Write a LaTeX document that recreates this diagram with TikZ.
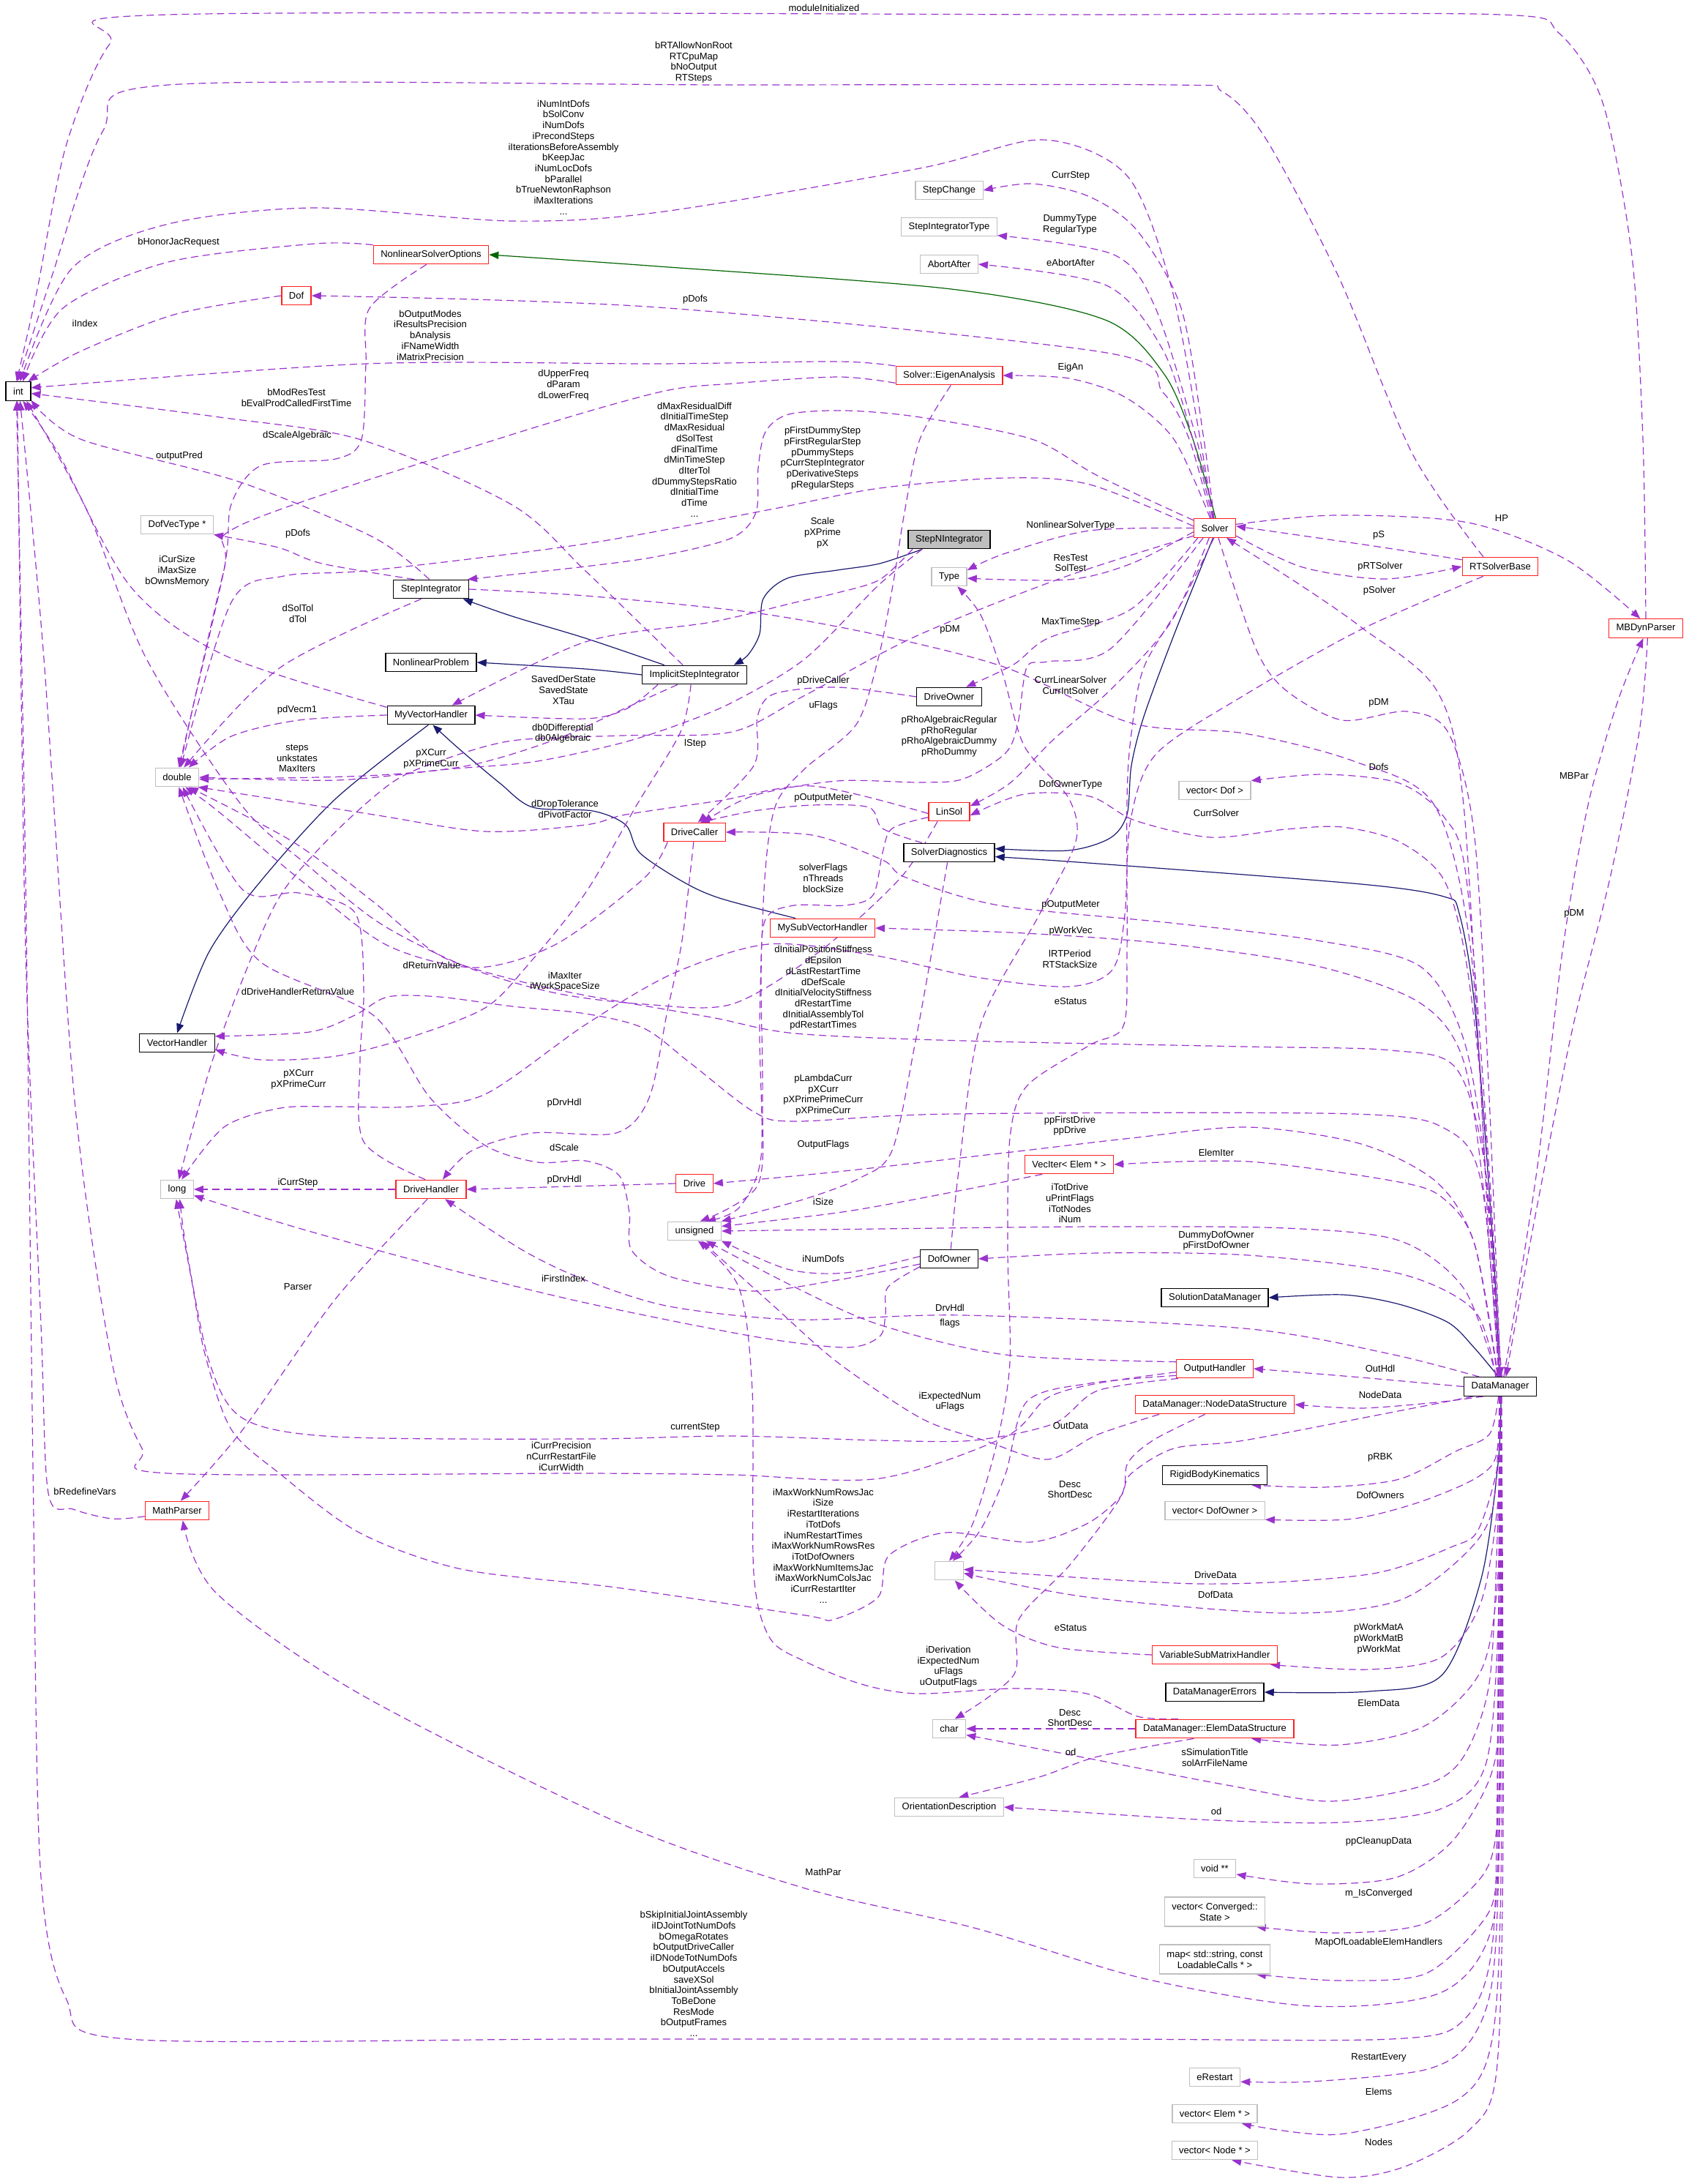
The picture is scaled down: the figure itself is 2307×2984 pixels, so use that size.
\documentclass[tikz,border=0pt]{standalone}
\usepackage{fontspec}
\setmainfont{Liberation Sans}
\usetikzlibrary{arrows.meta}
\definecolor{usage}{HTML}{9A32CD}
\definecolor{pubinh}{HTML}{191970}
\definecolor{protinh}{HTML}{006400}
\definecolor{trunc}{HTML}{FF2020}
\definecolor{undoc}{HTML}{BFBFBF}
\pgfdeclarelayer{edges}
\pgfsetlayers{edges,main}

\begin{document}
\begin{tikzpicture}[x=1pt, y=-1pt, font=\fontsize{13}{14.7}\selectfont,
    box/.style={draw=black, line width=1.3pt, fill=white, minimum height=25.5pt, inner xsep=10pt, inner ysep=2pt},
    red box/.style={box, draw=trunc},
    grey box/.style={box, draw=undoc},
    lbl/.style={align=center, inner sep=0pt},
    dep/.style={draw=usage, line width=1.2pt, dash pattern=on 10pt off 6pt, -{Triangle[length=13pt, width=10pt]}},
    inh/.style={draw=pubinh, line width=1.2pt, -{Triangle[length=13pt, width=10pt]}},
    prot/.style={inh, draw=protinh}]
  \useasboundingbox (0,0) rectangle (2307,2984);

  % classes
  \node[box] (int) at (25,534.5) {int};
  \node[red box] (nso) at (589,348) {NonlinearSolverOptions};
  \node[red box] (dof) at (405,404) {Dof};
  \node[grey box] (stepchange) at (1297,260) {StepChange};
  \node[grey box] (sitype) at (1297,310) {StepIntegratorType};
  \node[grey box] (abortafter) at (1297,361) {AbortAfter};
  \node[red box] (eigen) at (1297,513) {Solver::EigenAnalysis};
  \node[red box] (solver) at (1660,721.5) {Solver};
  \node[red box] (rtsolver) at (2050,774) {RTSolverBase};
  \node[red box] (mbdyn) at (2249,858.5) {MBDynParser};
  \node[grey box] (dofvec) at (242,717) {DofVecType *};
  \node[box] (stepint) at (589,805) {StepIntegrator};
  \node[box] (nlprob) at (589,905) {NonlinearProblem};
  \node[box] (myvh) at (589,977) {MyVectorHandler};
  \node[grey box] (double) at (242,1062) {double};
  \node[box, fill=undoc] (stepn) at (1297,737) {StepNIntegrator};
  \node[grey box] (type) at (1297,788) {Type};
  \node[box] (implicit) at (949,922) {ImplicitStepIntegrator};
  \node[box] (driveowner) at (1297,952) {DriveOwner};
  \node[red box] (linsol) at (1297,1109) {LinSol};
  \node[red box] (drivecaller) at (949,1137) {DriveCaller};
  \node[box] (diag) at (1297,1165) {SolverDiagnostics};
  \node[grey box] (vecdof) at (1660,1080) {vector< Dof >};
  \node[red box] (mysubvh) at (1124,1268) {MySubVectorHandler};
  \node[box] (vh) at (242,1425) {VectorHandler};
  \node[grey box] (long) at (242,1625) {long};
  \node[red box] (drivehandler) at (589,1625) {DriveHandler};
  \node[red box] (mathparser) at (242,2064) {MathParser};
  \node[red box] (drive) at (949,1617) {Drive};
  \node[grey box] (unsigned) at (949,1682) {unsigned};
  \node[red box] (veciter) at (1461,1591) {VecIter< Elem * >};
  \node[box] (dofowner) at (1297,1720) {DofOwner};
  \node[box] (sdm) at (1660,1773) {SolutionDataManager};
  \node[red box] (outhdl) at (1660,1870) {OutputHandler};
  \node[box] (dm) at (2050,1894.5) {DataManager};
  \node[red box] (nodeds) at (1660,1919) {DataManager::NodeDataStructure};
  \node[box] (rbk) at (1660,2015.5) {RigidBodyKinematics};
  \node[grey box] (vecdofowner) at (1660,2064) {vector< DofOwner >};
  \node[grey box, minimum width=38.5pt] (empty) at (1297,2146) {};
  \node[red box] (vsmh) at (1660,2261) {VariableSubMatrixHandler};
  \node[box] (dmerr) at (1660,2312) {DataManagerErrors};
  \node[grey box] (char) at (1297,2362) {char};
  \node[red box] (elemds) at (1660,2362) {DataManager::ElemDataStructure};
  \node[grey box] (orient) at (1297,2469) {OrientationDescription};
  \node[grey box] (voidpp) at (1660,2553) {void **};
  \node[grey box, align=center, minimum height=40pt] (vecconv) at (1660,2612) {vector< Converged::\\State >};
  \node[grey box, align=center, minimum height=40pt] (mapload) at (1660,2677) {map< std::string, const\\LoadableCalls * >};
  \node[grey box] (erestart) at (1660,2838) {eRestart};
  \node[grey box] (vecelem) at (1660,2888) {vector< Elem * >};
  \node[grey box] (vecnode) at (1660,2938) {vector< Node * >};

  \begin{pgfonlayer}{edges}
    % inheritance
    \draw[inh] plot[smooth] coordinates {(stepn.200) (1202,770) (1144,779) (1076,790) (1043,818) (1038,866) (1022,895) (implicit.14)};
    \draw[inh] plot[smooth] coordinates {(implicit.162) (800,872) (700,842) (stepint.-17)};
    \draw[inh] plot[smooth] coordinates {(implicit.west) (800,914) (nlprob.east)};
    \draw[inh] plot[smooth] coordinates {(myvh.-105) (459,1091) (357,1203) (286,1300) (vh.north)};
    \draw[inh] plot[smooth] coordinates {(mysubvh.160) (983,1227) (932,1204) (874,1165) (855,1127) (810,1108) (728,1103) (683,1070) (626,1022) (myvh.-80)};
    \draw[inh] plot[smooth] coordinates {(solver.-100) (1604,868) (1563,979) (1546,1046) (1540,1113) (1517,1145) (1460,1162) (diag.5)};
    \draw[inh] plot[smooth] coordinates {(dm.95) (2040,1700) (2015,1374) (1994,1248) (1973,1225) (1860,1208) (1500,1180) (diag.-5)};
    \draw[inh] plot[smooth] coordinates {(dm.100) (2015,1842) (1979,1807) (1912,1782) (1835,1769) (sdm.east)};
    \draw[inh] plot[smooth] coordinates {(dm.-85) (2047,2000) (2024,2157) (1970,2289) (1870,2311) (dmerr.east)};
    \draw[prot] plot[smooth] coordinates {(solver.85) (1630,600) (1590,510) (1510,437) (1300,395) (900,364) (nso.east)};

    % into int
    \draw[dep] plot[smooth] coordinates {(mbdyn.north) (2245,600) (2230,350) (2190,140) (2130,45) (2050,20) (1500,20) (230,20) (150,60) (90,200) (50,400) (int.100)};
    \draw[dep] plot[smooth] coordinates {(rtsolver.150) (1930,620) (1830,380) (1730,190) (1670,125) (1600,116) (1000,116) (230,116) (140,180) (70,380) (int.95)};
    \draw[dep] plot[smooth] coordinates {(solver.100) (1640,600) (1600,390) (1540,240) (1425,191) (1257,230) (900,290) (700,302) (430,284) (230,306) (98,367) (int.80)};
    \draw[dep] plot[smooth] coordinates {(nso.north west) (430,333) (230,358) (86,421) (int.65)};
    \draw[dep] plot[smooth] coordinates {(dof.west) (241,429) (110,480) (int.45)};
    \draw[dep] plot[smooth] coordinates {(eigen.170) (1145,494) (900,497) (500,497) (int.15)};
    \draw[dep] plot[smooth] coordinates {(implicit.140) (800,780) (700,690) (494,601) (300,570) (int.-10)};
    \draw[dep] plot[smooth] coordinates {(stepint.100) (510,734) (326,658) (110,600) (int.-35)};
    \draw[dep] plot[smooth] coordinates {(myvh.170) (306,895) (178,801) (80,620) (int.-65)};
    \draw[dep] plot[smooth] coordinates {(mathparser.-170) (153,2075) (100,2062) (66,2040) (56,1810) (35,1300) (int.-95)};
    \draw[dep] plot[smooth] coordinates {(dm.-95) (2047,2300) (2040,2650) (2000,2760) (1900,2786) (1500,2786) (800,2786) (175,2786) (90,2730) (55,2550) (45,2000) (35,1200) (int.-100)};
    \draw[dep] plot[smooth] coordinates {(outhdl.185) (1500,1890) (1431,1910) (1374,1963) (1202,2020) (1000,2015) (800,2013) (230,2013) (194,1979) (153,1861) (102,1504) (60,900) (int.-80)};
    \draw[dep] plot[smooth] coordinates {(linsol.-140) (1230,1200) (1120,1300) (1000,1372) (880,1372) (760,1357) (640,1322) (520,1262) (420,1182) (330,1100) (200,900) (120,700) (int.-50)};

    % into double
    \draw[dep] plot[smooth] coordinates {(nso.-115) (505,421) (500,497) (494,600) (459,627) (357,636) (316,689) (306,779) (double.80)};
    \draw[dep] plot[smooth] coordinates {(eigen.188) (1145,515) (1002,524) (900,536) (689,597) (332,716) (306,779) (double.75)};
    \draw[dep] plot[smooth] coordinates {(solver.175) (1489,662) (1374,653) (1202,667) (1053,696) (800,743) (510,779) (388,787) (316,823) (double.70)};
    \draw[dep] plot[smooth] coordinates {(stepint.-135) (383,912) (double.55)};
    \draw[dep] plot[smooth] coordinates {(myvh.west) (408,984) (316,1006) (double.40)};
    \draw[dep] plot[smooth] coordinates {(stepn.-160) (1200,800) (1100,900) (1000,960) (919,993) (842,1017) (728,1041) (612,1051) (459,1066) (double.east)};
    \draw[dep] plot[smooth] coordinates {(implicit.-150) (860,965) (760,1010) (640,1046) (500,1060) (double.-5)};
    \draw[dep] plot[smooth] coordinates {(linsol.185) (1110,1074) (983,1094) (855,1113) (800,1127) (663,1136) (510,1113) (double.-25)};
    \draw[dep] plot[smooth] coordinates {(dofowner.190) (1144,1749) (1030,1764) (915,1744) (863,1708) (860,1657) (846,1606) (800,1586) (735,1588) (663,1565) (587,1499) (510,1387) (357,1315) (300,1220) (double.-80)};
    \draw[dep] plot[smooth] coordinates {(drivehandler.120) (497,1560) (492,1450) (497,1350) (485,1247) (408,1220) (332,1216) (double.-60)};
    \draw[dep] plot[smooth] coordinates {(drivecaller.200) (880,1200) (760,1290) (650,1322) (530,1292) (420,1210) (300,1110) (double.-50)};
    \draw[dep] plot[smooth] coordinates {(dm.92) (2030,1600) (1990,1460) (1900,1435) (1700,1430) (1317,1422) (1087,1412) (972,1390) (800,1360) (700,1338) (600,1305) (510,1232) (400,1150) (double.-40)};

    % into long
    \draw[dep] (drivehandler.west) -- (long.east);
    \draw[dep] plot[smooth] coordinates {(dofowner.-165) (1213,1759) (1210,1795) (1202,1826) (1156,1841) (1030,1826) (800,1780) (612,1734) (408,1678) (long.-20)};
    \draw[dep] plot[smooth] coordinates {(outhdl.-165) (1500,1900) (1440,1945) (1330,1968) (1202,1968) (1000,1962) (800,1966) (459,1963) (332,1938) (286,1861) (255,1708) (long.-75)};
    \draw[dep] plot[smooth] coordinates {(dm.-160) (1900,1930) (1700,1968) (1604,1979) (1545,2014) (1531,2045) (1485,2082) (1408,2107) (1292,2094) (1215,2125) (1200,2182) (1138,2213) (1100,2207) (842,2169) (631,2144) (491,2094) (383,2014) (316,1953) (280,1850) (262,1750) (long.-95)};
    \draw[dep] plot[smooth] coordinates {(solver.-160) (1450,790) (1250,870) (1100,950) (1000,1000) (850,1005) (700,1012) (600,1040) (536,1069) (459,1136) (388,1216) (347,1300) (290,1450) (long.80)};
    \draw[dep] plot[smooth] coordinates {(rtsolver.-150) (1860,860) (1700,950) (1580,1030) (1545,1120) (1537,1250) (1520,1325) (1460,1348) (1333,1335) (1193,1305) (1050,1290) (920,1330) (800,1400) (663,1495) (561,1512) (459,1512) (383,1514) (306,1540) (long.65)};

    % into VectorHandler and MyVectorHandler
    \draw[dep] plot[smooth] coordinates {(implicit.-110) (930,1000) (870,1100) (800,1220) (720,1320) (663,1377) (561,1417) (459,1443) (357,1448) (vh.-10)};
    \draw[dep] plot[smooth] coordinates {(dm.98) (2025,1620) (1980,1545) (1850,1522) (1300,1522) (1087,1532) (1030,1519) (944,1453) (880,1405) (800,1385) (700,1375) (600,1362) (530,1362) (485,1387) (423,1410) (vh.10)};
    \draw[dep] plot[smooth] coordinates {(stepn.-165) (1202,792) (1144,810) (1087,823) (972,850) (800,877) (myvh.25)};
    \draw[dep] plot[smooth] coordinates {(implicit.-165) (857,968) (800,982) (myvh.east)};

    % into unsigned
    \draw[dep] plot[smooth] coordinates {(eigen.-80) (1257,600) (1236,700) (1220,800) (1200,900) (1170,990) (1100,1050) (1060,1100) (1045,1200) (1038,1400) (1040,1580) (1010,1650) (unsigned.40)};
    \draw[dep] plot[smooth] coordinates {(diag.-100) (1276,1285) (1250,1428) (1219,1572) (1174,1610) (1097,1639) (unsigned.20)};
    \draw[dep] plot[smooth] coordinates {(linsol.195) (1219,1132) (1206,1165) (1193,1223) (1155,1237) (1085,1237) (1046,1256) (1040,1333) (1042,1500) (1035,1620) (unsigned.60)};
    \draw[dep] plot[smooth] coordinates {(veciter.-160) (1259,1637) (1144,1657) (unsigned.10)};
    \draw[dep] plot[smooth] coordinates {(dm.110) (2000,1760) (1912,1695) (1757,1678) (1500,1676) (1202,1679) (unsigned.east)};
    \draw[dep] plot[smooth] coordinates {(dofowner.175) (1156,1739) (1076,1734) (unsigned.-20)};
    \draw[dep] plot[smooth] coordinates {(outhdl.170) (1374,1851) (1202,1810) (1087,1759) (unsigned.-40)};
    \draw[dep] plot[smooth] coordinates {(nodeds.-170) (1500,1960) (1431,1994) (1345,1968) (1259,1938) (1144,1861) (1058,1785) (unsigned.-55)};
    \draw[dep] plot[smooth] coordinates {(elemds.165) (1554,2345) (1485,2314) (1385,2307) (1254,2314) (1177,2301) (1100,2270) (1052,2238) (1030,2150) (1028,1900) (1010,1760) (unsigned.-70)};

    % into char, empty box, OrientationDescription
    \draw[dep] plot[smooth] coordinates {(nodeds.-135) (1577,1967) (1541,1999) (1531,2046) (1462,2138) (1392,2213) (1385,2289) (char.60)};
    \draw[dep] (elemds.west) -- (char.east);
    \draw[dep] plot[smooth] coordinates {(dm.-88) (2046,2100) (2035,2300) (2000,2400) (1947,2439) (1816,2461) (1677,2439) (1485,2402) (char.-20)};
    \draw[dep] plot[smooth] coordinates {(dm.-92) (2047,2000) (2020,2090) (1985,2113) (1870,2151) (1639,2164) (empty.5)};
    \draw[dep] plot[smooth] coordinates {(dm.-94) (2040,2060) (2000,2125) (1908,2188) (1754,2204) (1485,2182) (empty.-10)};
    \draw[dep] plot[smooth] coordinates {(vsmh.west) (1446,2251) (1369,2220) (empty.-60)};
    \draw[dep] plot[smooth] coordinates {(outhdl.190) (1489,1890) (1403,1915) (1374,2014) (1340,2090) (empty.70)};
    \draw[dep] plot[smooth] coordinates {(solver.-95) (1615,823) (1563,912) (1546,1002) (1540,1091) (1540,1300) (1535,1402) (1489,1428) (1403,1484) (1380,1555) (1377,1708) (1380,1861) (1363,1968) (1330,2080) (empty.north)};
    \draw[dep] plot[smooth] coordinates {(elemds.-155) (1500,2400) (1420,2428) (orient.45)};
    \draw[dep] plot[smooth] coordinates {(dm.-86) (2048,2200) (2031,2408) (1970,2471) (1831,2490) (1639,2486) (orient.east)};

    % DataManager members on the right column
    \draw[dep] plot[smooth] coordinates {(dm.-150) (1963,1916) (1860,1924) (nodeds.east)};
    \draw[dep] plot[smooth] coordinates {(dm.west) (1860,1882) (outhdl.east)};
    \draw[dep] plot[smooth] coordinates {(dm.-100) (2035,1960) (1989,1983) (1912,2021) (1809,2032) (rbk.-15)};
    \draw[dep] plot[smooth] coordinates {(dm.-98) (2040,2000) (1960,2045) (1850,2075) (vecdofowner.-10)};
    \draw[dep] plot[smooth] coordinates {(dm.-90) (2047,2050) (2024,2188) (1970,2264) (1870,2281) (vsmh.-10)};
    \draw[dep] plot[smooth] coordinates {(dm.-89) (2047,2150) (2024,2282) (1947,2358) (1831,2384) (elemds.-15)};
    \draw[dep] plot[smooth] coordinates {(dm.-87) (2049,2300) (2039,2420) (1985,2515) (1908,2565) (1793,2574) (voidpp.-15)};
    \draw[dep] plot[smooth] coordinates {(dm.-86) (2050,2350) (2045,2500) (2024,2565) (1947,2628) (1831,2641) (vecconv.-20)};
    \draw[dep] plot[smooth] coordinates {(dm.-85) (2050,2400) (2045,2570) (2024,2628) (1947,2697) (1831,2706) (mapload.-20)};
    \draw[dep] plot[smooth] coordinates {(dm.-84) (2050,2450) (2040,2700) (2008,2790) (1947,2828) (1793,2844) (erestart.-10)};
    \draw[dep] plot[smooth] coordinates {(dm.-83) (2052,2500) (2040,2780) (1990,2870) (1831,2916) (vecelem.-20)};
    \draw[dep] plot[smooth] coordinates {(dm.-82) (2054,2500) (2045,2830) (2008,2910) (1920,2960) (1831,2975) (vecnode.-30)};
    \draw[dep] plot[smooth] coordinates {(dm.-93) (2047,2400) (2040,2628) (1970,2722) (1793,2741) (1562,2703) (1331,2634) (1100,2580) (842,2489) (491,2314) (295,2176) (mathparser.-60)};
    \draw[dep] plot[smooth] coordinates {(dm.115) (2015,1791) (1912,1740) (1706,1715) (1500,1712) (dofowner.east)};
    \draw[dep] plot[smooth] coordinates {(dm.155) (1900,1850) (1700,1815) (1317,1797) (1087,1803) (915,1785) (800,1749) (714,1708) (drivehandler.-35)};
    \draw[dep] plot[smooth] coordinates {(dm.105) (2015,1700) (1973,1638) (1912,1615) (1706,1587) (veciter.east)};
    \draw[dep] plot[smooth] coordinates {(dm.102) (2015,1700) (1963,1615) (1860,1563) (1706,1540) (1546,1555) (1374,1575) (1144,1601) (drive.east)};
    \draw[dep] plot[smooth] coordinates {(dm.85) (2035,1600) (2004,1202) (1973,1116) (1912,1070) (1809,1058) (vecdof.15)};
    \draw[dep] plot[smooth] coordinates {(dm.80) (2030,1600) (2000,1100) (1963,943) (1860,857) (1778,800) (solver.-40)};
    \draw[dep] plot[smooth] coordinates {(dm.70) (2100,1600) (2135,1300) (2170,1100) (2210,960) (mbdyn.-105)};
    \draw[dep] plot[smooth] coordinates {(mbdyn.-80) (2240,1000) (2200,1200) (2150,1400) (2100,1650) (dm.60)};
    \draw[dep] plot[smooth] coordinates {(dm.96) (2030,1600) (2000,1420) (1940,1320) (1800,1285) (1600,1261) (1365,1237) (1238,1199) (1206,1175) (1110,1141) (drivecaller.east)};
    \draw[dep] plot[smooth] coordinates {(dm.97) (2030,1650) (2000,1450) (1940,1370) (1800,1320) (1600,1290) (1400,1275) (mysubvh.east)};
    \draw[dep] plot[smooth] coordinates {(dm.93) (2030,1550) (2004,1317) (1973,1202) (1912,1150) (1834,1130) (1757,1133) (1654,1144) (1551,1121) (1489,1088) (1400,1085) (linsol.-10)};

    % Solver members
    \draw[dep] plot[smooth] coordinates {(solver.95) (1645,600) (1614,421) (1553,314) (1487,268) (1410,251) (stepchange.east)};
    \draw[dep] plot[smooth] coordinates {(solver.98) (1635,600) (1579,421) (1522,348) (sitype.-10)};
    \draw[dep] plot[smooth] coordinates {(solver.102) (1630,600) (1589,478) (1512,390) (abortafter.east)};
    \draw[dep] plot[smooth] coordinates {(solver.110) (1625,600) (1589,536) (1512,482) (900,420) (dof.east)};
    \draw[dep] plot[smooth] coordinates {(solver.115) (1604,600) (1538,543) (1461,517) (eigen.east)};
    \draw[dep] plot[smooth] coordinates {(solver.180) (1489,725) (1374,756) (type.20)};
    \draw[dep] plot[smooth] coordinates {(solver.-170) (1546,770) (1460,792) (type.-5)};
    \draw[dep] plot[smooth] coordinates {(solver.-150) (1546,832) (1432,872) (1385,908) (driveowner.30)};
    \draw[dep] plot[smooth] coordinates {(solver.-120) (1600,850) (1520,940) (1440,1010) (1380,1070) (linsol.15)};
    \draw[dep] plot[smooth] coordinates {(solver.-140) (1518,886) (1431,904) (1403,912) (1391,988) (1374,1029) (1317,1064) (1259,1069) (1144,1067) (1030,1087) (drivecaller.50)};
    \draw[dep] plot[smooth] coordinates {(solver.160) (1500,650) (1410,600) (1257,570) (1155,561) (1078,566) (1046,590) (1036,640) (1033,700) (1000,735) (900,760) (800,774) (stepint.15)};
    \draw[dep] plot[smooth] coordinates {(solver.10) (1825,704) (2006,714) (2141,765) (mbdyn.120)};
    \draw[dep] plot[smooth] coordinates {(solver.-20) (1780,775) (1893,791) (rtsolver.west)};
    \draw[dep] plot[smooth] coordinates {(rtsolver.170) (1870,745) (solver.5)};
    \draw[dep] plot[smooth] coordinates {(solver.-70) (1716,886) (1757,943) (1834,984) (1922,972) (1979,1001) (2015,1144) (2035,1500) (dm.88)};

    % remaining members
    \draw[dep] plot[smooth] coordinates {(stepint.east) (800,814) (1030,837) (1202,868) (1374,912) (1546,988) (1700,1002) (1850,1040) (1960,1100) (2010,1300) (2035,1700) (dm.90)};
    \draw[dep] plot[smooth] coordinates {(stepint.150) (440,770) (380,748) (dofvec.-15)};
    \draw[dep] plot[smooth] coordinates {(driveowner.west) (1144,939) (1058,948) (1035,979) (1030,1046) (drivecaller.70)};
    \draw[dep] plot[smooth] coordinates {(diag.160) (1206,1132) (1187,1103) (1110,1100) (1030,1108) (drivecaller.60)};
    \draw[dep] plot[smooth] coordinates {(dofowner.80) (1310,1600) (1340,1400) (1420,1250) (1470,1150) (1460,1090) (1400,1020) (1370,920) (1340,840) (type.-50)};
    \draw[dep] plot[smooth] coordinates {(drivecaller.-95) (932,1285) (912,1381) (887,1500) (842,1548) (728,1548) (645,1572) (drivehandler.40)};
    \draw[dep] (drive.west) -- (drivehandler.east);
    \draw[dep] plot[smooth] coordinates {(drivehandler.-110) (459,1774) (332,1953) (mathparser.70)};
  \end{pgfonlayer}

  % member labels
  \node[lbl] (lbModInit) at (1126,11) {moduleInitialized};
  \node[lbl] (lbRTAllow) at (948,85) {bRTAllowNonRoot\\RTCpuMap\\bNoOutput\\RTSteps};
  \node[lbl] (lbNumInt) at (770,215) {iNumIntDofs\\bSolConv\\iNumDofs\\iPrecondSteps\\iIterationsBeforeAssembly\\bKeepJac\\iNumLocDofs\\bParallel\\bTrueNewtonRaphson\\iMaxIterations\\...};
  \node[lbl] (lbHonor) at (244,331) {bHonorJacRequest};
  \node[lbl] (lbIndex) at (116,442) {iIndex};
  \node[lbl] (lbOutModes) at (588,458) {bOutputModes\\iResultsPrecision\\bAnalysis\\iFNameWidth\\iMatrixPrecision};
  \node[lbl] (lbModRes) at (405,543) {bModResTest\\bEvalProdCalledFirstTime};
  \node[lbl] (lbScaleAlg) at (406,595) {dScaleAlgebraic};
  \node[lbl] (lbUpperFreq) at (770,526) {dUpperFreq\\dParam\\dLowerFreq};
  \node[lbl] (lbCurrStep) at (1463,240) {CurrStep};
  \node[lbl] (lbDummyType) at (1462,307) {DummyType\\RegularType};
  \node[lbl] (lbAbort) at (1463,359) {eAbortAfter};
  \node[lbl] (lbSolvDofs) at (950,409) {pDofs};
  \node[lbl] (lbEigAn) at (1463,502) {EigAn};
  \node[lbl] (lbMaxRes) at (949,628) {dMaxResidualDiff\\dInitialTimeStep\\dMaxResidual\\dSolTest\\dFinalTime\\dMinTimeStep\\dIterTol\\dDummyStepsRatio\\dInitialTime\\dTime\\...};
  \node[lbl] (lbFirstDummy) at (1124,626) {pFirstDummyStep\\pFirstRegularStep\\pDummySteps\\pCurrStepIntegrator\\pDerivativeSteps\\pRegularSteps};
  \node[lbl] (lbHP) at (2052,708) {HP};
  \node[lbl] (lbpS) at (1884,731) {pS};
  \node[lbl] (lbRTSolver) at (1886,774) {pRTSolver};
  \node[lbl] (lbOutPred) at (245,623) {outputPred};
  \node[lbl] (lbStepDofs) at (407,729) {pDofs};
  \node[lbl] (lbCurSize) at (242,780) {iCurSize\\iMaxSize\\bOwnsMemory};
  \node[lbl] (lbSolTol) at (407,838) {dSolTol\\dTol};
  \node[lbl] (lbVecm) at (406,970) {pdVecm1};
  \node[lbl] (lbSteps) at (406,1036) {steps\\unkstates\\MaxIters};
  \node[lbl] (lbSaved) at (770,943) {SavedDerState\\SavedState\\XTau};
  \node[lbl] (lbDb) at (769,1002) {db0Differential\\db0Algebraic};
  \node[lbl] (lbXCurrA) at (589,1037) {pXCurr\\pXPrimeCurr};
  \node[lbl] (lbDrop) at (772,1105) {dDropTolerance\\dPivotFactor};
  \node[lbl] (lbLStep) at (950,1016) {lStep};
  \node[lbl] (lbScale) at (1124,728) {Scale\\pXPrime\\pX};
  \node[lbl] (lbNlType) at (1463,718) {NonlinearSolverType};
  \node[lbl] (lbResTest) at (1463,769) {ResTest\\SolTest};
  \node[lbl] (lbMaxTime) at (1463,850) {MaxTimeStep};
  \node[lbl] (lbpDMa) at (1298,860) {pDM};
  \node[lbl] (lbDrvCaller) at (1125,930) {pDriveCaller};
  \node[lbl] (lbCurrLin) at (1463,936) {CurrLinearSolver\\CurrIntSolver};
  \node[lbl] (lbuFlags) at (1125,964) {uFlags};
  \node[lbl] (lbRho) at (1297,1006) {pRhoAlgebraicRegular\\pRhoRegular\\pRhoAlgebraicDummy\\pRhoDummy};
  \node[lbl] (lbOwnerType) at (1463,1072) {DofOwnerType};
  \node[lbl] (lbMeterA) at (1125,1090) {pOutputMeter};
  \node[lbl] (lbCurrSolver) at (1662,1111) {CurrSolver};
  \node[lbl] (lbDofs) at (1884,1048) {Dofs};
  \node[lbl] (lbpDMb) at (1884,960) {pDM};
  \node[lbl] (lbpSolver) at (1885,807) {pSolver};
  \node[lbl] (lbMBPar) at (2151,1060) {MBPar};
  \node[lbl] (lbpDMc) at (2151,1248) {pDM};
  \node[lbl] (lbSolvFlags) at (1125,1200) {solverFlags\\nThreads\\blockSize};
  \node[lbl] (lbMeterB) at (1463,1236) {pOutputMeter};
  \node[lbl] (lbWorkVec) at (1463,1272) {pWorkVec};
  \node[lbl] (lbRetVal) at (590,1319) {dReturnValue};
  \node[lbl] (lbMaxIter) at (772,1341) {iMaxIter\\iWorkSpaceSize};
  \node[lbl] (lbStiff) at (1125,1350) {dInitialPositionStiffness\\dEpsilon\\dLastRestartTime\\dDefScale\\dInitialVelocityStiffness\\dRestartTime\\dInitialAssemblyTol\\pdRestartTimes};
  \node[lbl] (lbRTPeriod) at (1462,1310) {lRTPeriod\\RTStackSize};
  \node[lbl] (lbStatusA) at (1463,1368) {eStatus};
  \node[lbl] (lbDHRet) at (407,1355) {dDriveHandlerReturnValue};
  \node[lbl] (lbXCurrB) at (408,1475) {pXCurr\\pXPrimeCurr};
  \node[lbl] (lbDrvHdlA) at (771,1507) {pDrvHdl};
  \node[lbl] (lbdScale) at (771,1568) {dScale};
  \node[lbl] (lbDrvHdlB) at (771,1612) {pDrvHdl};
  \node[lbl] (lbCurrStepL) at (407,1616) {iCurrStep};
  \node[lbl] (lbLambda) at (1125,1496) {pLambdaCurr\\pXCurr\\pXPrimePrimeCurr\\pXPrimeCurr};
  \node[lbl] (lbFirstDrive) at (1462,1538) {ppFirstDrive\\ppDrive};
  \node[lbl] (lbOutFlags) at (1125,1564) {OutputFlags};
  \node[lbl] (lbElemIter) at (1662,1575) {ElemIter};
  \node[lbl] (lbiSize) at (1125,1642) {iSize};
  \node[lbl] (lbTotDrive) at (1462,1644) {iTotDrive\\uPrintFlags\\iTotNodes\\iNum};
  \node[lbl] (lbDummyOwner) at (1662,1695) {DummyDofOwner\\pFirstDofOwner};
  \node[lbl] (lbNumDofs) at (1125,1720) {iNumDofs};
  \node[lbl] (lbFirstIdx) at (770,1747) {iFirstIndex};
  \node[lbl] (lbParser) at (407,1758) {Parser};
  \node[lbl] (lbDrvHdlC) at (1298,1787) {DrvHdl};
  \node[lbl] (lbFlags) at (1298,1808) {flags};
  \node[lbl] (lbOutHdl) at (1886,1870) {OutHdl};
  \node[lbl] (lbNodeData) at (1886,1906) {NodeData};
  \node[lbl] (lbExpNum) at (1298,1915) {iExpectedNum\\uFlags};
  \node[lbl] (lbCurrentStep) at (950,1950) {currentStep};
  \node[lbl] (lbOutData) at (1463,1948) {OutData};
  \node[lbl] (lbPrecision) at (767,1990) {iCurrPrecision\\nCurrRestartFile\\iCurrWidth};
  \node[lbl] (lbRBK) at (1886,1991) {pRBK};
  \node[lbl] (lbDescA) at (1462,2035) {Desc\\ShortDesc};
  \node[lbl] (lbRedefine) at (116,2038) {bRedefineVars};
  \node[lbl] (lbDofOwners) at (1886,2043) {DofOwners};
  \node[lbl] (lbWorkNum) at (1125,2112) {iMaxWorkNumRowsJac\\iSize\\iRestartIterations\\iTotDofs\\iNumRestartTimes\\iMaxWorkNumRowsRes\\iTotDofOwners\\iMaxWorkNumItemsJac\\iMaxWorkNumColsJac\\iCurrRestartIter\\...};
  \node[lbl] (lbDriveData) at (1661,2152) {DriveData};
  \node[lbl] (lbDofData) at (1661,2179) {DofData};
  \node[lbl] (lbStatusB) at (1463,2224) {eStatus};
  \node[lbl] (lbWorkMat) at (1884,2239) {pWorkMatA\\pWorkMatB\\pWorkMat};
  \node[lbl] (lbDerivation) at (1296,2277) {iDerivation\\iExpectedNum\\uFlags\\uOutputFlags};
  \node[lbl] (lbElemData) at (1884,2327) {ElemData};
  \node[lbl] (lbDescB) at (1462,2347) {Desc\\ShortDesc};
  \node[lbl] (lbOdA) at (1463,2394) {od};
  \node[lbl] (lbSimTitle) at (1660,2401) {sSimulationTitle\\solArrFileName};
  \node[lbl] (lbOdB) at (1662,2475) {od};
  \node[lbl] (lbCleanup) at (1884,2516) {ppCleanupData};
  \node[lbl] (lbMathPar) at (1125,2558) {MathPar};
  \node[lbl] (lbConverged) at (1884,2587) {m\_IsConverged};
  \node[lbl] (lbLoadable) at (1884,2654) {MapOfLoadableElemHandlers};
  \node[lbl] (lbSkip) at (948,2697) {bSkipInitialJointAssembly\\iIDJointTotNumDofs\\bOmegaRotates\\bOutputDriveCaller\\iIDNodeTotNumDofs\\bOutputAccels\\saveXSol\\bInitialJointAssembly\\ToBeDone\\ResMode\\bOutputFrames\\...};
  \node[lbl] (lbRestart) at (1884,2811) {RestartEvery};
  \node[lbl] (lbElems) at (1884,2858) {Elems};
  \node[lbl] (lbNodes) at (1884,2927) {Nodes};
\end{tikzpicture}
\end{document}
